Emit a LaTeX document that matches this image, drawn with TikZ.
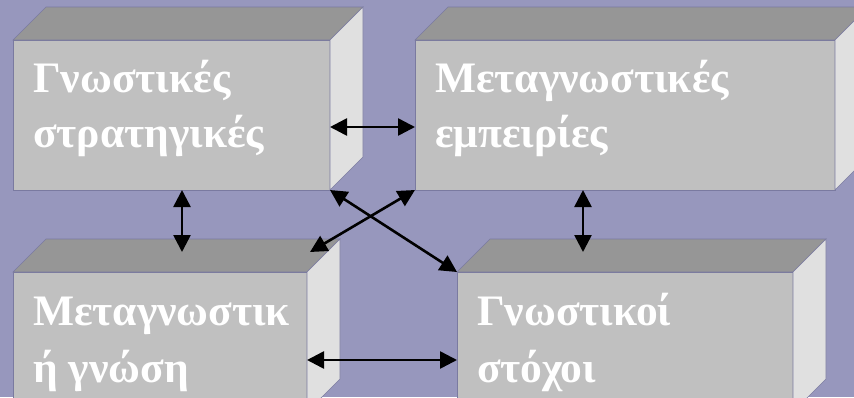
\documentclass[tikz,border=0pt]{standalone}
\usepackage{fontspec}
\setmainfont{Liberation Serif}
\usetikzlibrary{arrows.meta}
\definecolor{bgc}{HTML}{9797BD}
\definecolor{frontc}{HTML}{C0C0C0}
\definecolor{topc}{HTML}{969696}
\definecolor{sidec}{HTML}{E0E0E0}
\definecolor{edgec}{HTML}{7A7AA0}
\tikzset{
  front/.style={draw=edgec, line width=0.6pt, fill=frontc, anchor=north west, inner sep=0pt, outer sep=0pt},
  topface/.style={draw=edgec, line width=0.6pt, fill=topc},
  sideface/.style={draw=edgec, line width=0.6pt, fill=sidec},
  lbl/.style={anchor=base west, inner sep=0pt, text=white, font=\fontsize{43.5}{55}\selectfont\bfseries},
  arr/.style={line width=2.6pt, {Triangle[length=17pt,width=17pt]}-{Triangle[length=17pt,width=17pt]}}
}
\newcommand{\cubefaces}[1]{%
  \fill[topface] (#1.north west) -- ++(33,-33) -- ([shift={(33,-33)}]#1.north east) -- (#1.north east) -- cycle;
  \fill[sideface] (#1.north east) -- ++(33,-33) -- ([shift={(33,-33)}]#1.south east) -- (#1.south east) -- cycle;
}
\begin{document}
\begin{tikzpicture}[x=1pt,y=-1pt]
\clip (0,0) rectangle (854,397);
\fill[bgc] (0,0) rectangle (854,397);
% boxes
\node[front, minimum width=317pt, minimum height=150pt] (b1) at (13,40) {};
\node[front, minimum width=420pt, minimum height=150pt] (b2) at (415,40) {};
\node[front, minimum width=294pt, minimum height=140pt] (b3) at (13,272) {};
\node[front, minimum width=336pt, minimum height=140pt] (b4) at (457,272) {};
\cubefaces{b1}
\cubefaces{b2}
\cubefaces{b3}
\cubefaces{b4}
% labels
\node[lbl] (t1a) at (33,92) {Γνωστικές};
\node[lbl] (t1b) at (33,147) {στρατηγικές};
\node[lbl] (t2a) at (435,92) {Μεταγνωστικές};
\node[lbl] (t2b) at (435,147) {εμπειρίες};
\node[lbl] (t3a) at (33,325) {Μεταγνωστικ};
\node[lbl] (t3b) at (33,382) {ή γνώση};
\node[lbl] (t4a) at (477,325) {Γνωστικοί};
\node[lbl] (t4b) at (477,382) {στόχοι};
% anchor points on top faces
\coordinate (v1) at (182,252);
\coordinate (v2) at (583,252);
\coordinate (v3) at (310,252);
\coordinate (h1) at (0,127);
\coordinate (h2) at (0,360);
% connectors
\draw[arr] (b1.east |- h1) -- (b2.west |- h1);
\draw[arr] (b1.south -| v1) -- (v1);
\draw[arr] (b2.south -| v2) -- (v2);
\draw[arr] (b1.south east) -- (b4.north west);
\draw[arr] (b2.south west) -- (v3);
\draw[arr] (b3.east |- h2) -- (b4.west |- h2);
\end{tikzpicture}
\end{document}
